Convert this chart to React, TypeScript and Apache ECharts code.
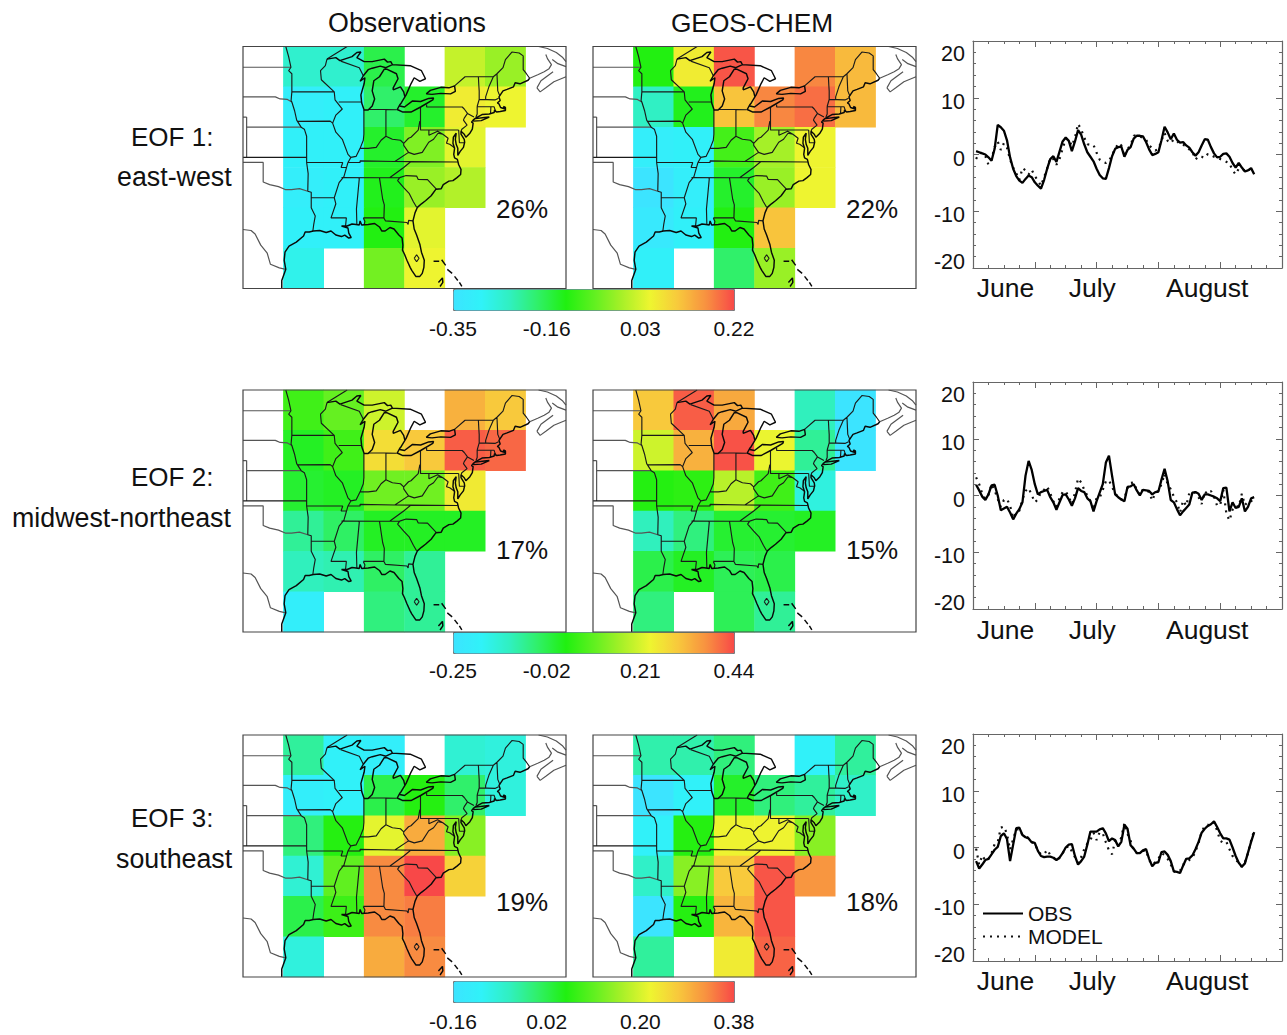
import React, { useEffect, useRef } from "react";
import * as echarts from "echarts";

const FONT = "Liberation Sans";
const colorRamp = ["#3ce4ff", "#30f2f8", "#30f0c0", "#30f068", "#20f010", "#60f020", "#a8f028", "#eef530", "#f8c83c", "#f89040", "#f84848"];
const belowRange = "#40c4fa";

const columnNames = ["c0", "c1", "c2", "c3", "c4", "c5", "c6", "c7"];
const rowNames = ["r5", "r4", "r3", "r2", "r1", "r0"];

// rows top to bottom, columns c1..c6
const obsEof1 = [
  [-0.25, -0.25, -0.16, null, 0.015, -0.02],
  [-0.31, -0.3, -0.18, -0.14, 0.06, 0.05],
  [-0.3, -0.3, -0.14, -0.04, 0.04, null],
  [-0.31, -0.3, -0.13, -0.02, 0.0, null],
  [-0.3, -0.3, -0.12, 0.04, null, null],
  [-0.28, null, -0.05, 0.05, null, null],
];
const modelEof1 = [
  [-0.12, 0.06, 0.21, null, 0.17, 0.12],
  [-0.24, -0.13, 0.11, 0.17, 0.19, 0.12],
  [-0.31, -0.3, -0.09, -0.01, 0.05, null],
  [-0.38, -0.31, -0.14, -0.02, 0.05, null],
  [-0.33, -0.3, -0.12, 0.11, null, null],
  [-0.3, null, -0.18, -0.02, null, null],
];
const obsEof2 = [
  [0.06, 0.1, 0.2, null, 0.33, 0.3],
  [0.01, 0.06, 0.27, 0.3, 0.42, 0.41],
  [0.0, 0.01, 0.11, 0.11, 0.25, null],
  [-0.08, -0.04, 0.01, 0.01, 0.01, null],
  [-0.11, -0.1, -0.04, -0.08, null, null],
  [-0.2, null, -0.06, -0.08, null, null],
];
const modelEof2 = [
  [0.3, 0.42, 0.34, null, -0.11, -0.28],
  [0.2, 0.33, 0.43, 0.23, -0.08, -0.25],
  [0.03, 0.04, 0.18, 0.06, -0.15, null],
  [-0.11, -0.06, 0.0, 0.0, 0.01, null],
  [-0.02, 0.01, -0.03, -0.02, null, null],
  [-0.06, null, -0.03, -0.08, null, null],
];
const obsEof3 = [
  [-0.03, -0.11, -0.12, null, -0.07, -0.08],
  [-0.12, -0.11, 0.02, 0.06, 0.0, -0.08],
  [-0.01, 0.06, 0.21, 0.3, 0.14, null],
  [-0.07, 0.11, 0.33, 0.38, 0.26, null],
  [0.02, 0.08, 0.33, 0.34, null, null],
  [-0.08, null, 0.3, 0.33, null, null],
];
const modelEof3 = [
  [-0.04, -0.04, -0.01, null, -0.11, -0.03],
  [-0.18, -0.11, 0.04, -0.01, -0.03, -0.06],
  [-0.11, 0.06, 0.22, 0.22, 0.14, null],
  [-0.06, 0.14, 0.27, 0.37, 0.32, null],
  [-0.18, 0.06, 0.29, 0.37, null, null],
  [-0.03, null, 0.23, 0.36, null, null],
];

const barRanges = [
  [-0.35, 0.22],
  [-0.25, 0.44],
  [-0.16, 0.38],
];
const barLabels = [
  [-0.35, -0.16, 0.03, 0.22],
  [-0.25, -0.02, 0.21, 0.44],
  [-0.16, 0.02, 0.2, 0.38],
];

const obsSeries1 = [0.6,0.4,0.2,0,-0.5,-1.1,1,5.2,4.8,4.2,2.5,-0.5,-2.5,-3.8,-4.6,-5,-4.3,-3.7,-4,-4.9,-5.5,-6,-4.5,-2.5,-0.8,-0.3,-1.3,0.5,2.3,3,2.4,0.6,2.3,4.3,3.5,1.8,0.4,-0.4,-1.2,-2.5,-3.6,-4.2,-4.3,-2.4,-0.3,1,1.3,1.4,-0.4,0.8,1.3,2.8,3.3,3.3,3.2,2.2,0.9,-0.1,0.1,0.4,2.5,4.9,3.9,2.7,3.7,2.6,2.1,2.2,1.6,1.2,0.4,-0.2,0.4,1.6,2.7,2.6,1.3,0.2,-0.5,-0.4,0.1,0.2,-0.4,-1.5,-2.3,-1.5,-2.3,-3,-2.8,-2.4,-3.5];
const modelSeries1 = [-0.8,0.2,0.3,-0.3,-1.8,-0.8,1.3,2.3,0.8,2,1.2,-0.9,-2.3,-3.3,-4.5,-2.4,-2.8,-3.5,-2.7,-3.8,-4.6,-5.5,-4,-2.5,-0.6,-0.8,-1.8,-0.8,1,2.8,2.6,1.5,3,5.4,4.4,3,1.8,1.7,1.7,0.3,-0.9,-1.3,-1.5,-1.2,0,0.9,2,1.6,-0.3,1,1.6,3.3,3.4,3.2,2.9,2.6,1.6,1.1,0.7,1,2.5,3.8,2.4,2,2.7,2.4,1.8,1.7,1.5,0.9,0.5,-0.9,-0.3,-0.4,-0.6,0.1,-0.1,-0.4,-0.6,-0.8,-1,-1.3,-1.5,-2.8,-3.5,-2.5,-2.6,-2.8,-2.4,-2.9,-3.3];
const obsSeries2 = [1.9,0.9,-0.2,-0.8,0.2,1.8,1.9,0,-2.6,-2.3,-2,-3,-4.2,-3.2,-2.4,-1.2,3.5,6.1,4.5,2,0.2,0.6,0.8,1,-0.3,-1.2,-2.5,-1.2,0.1,0.2,-0.7,-1.8,-0.5,1.3,0.8,0.6,-0.5,-1,-2.8,-1,0.5,2,5.8,7,3.5,0.2,-0.3,-0.7,-1,1.5,1.6,2,0.9,0,1,0.9,0.8,0.2,0.6,0.7,2.8,4.7,2.5,-0.8,-1.2,-2.4,-3.5,-2.8,-2.2,-1.6,0.5,0.6,0.3,-0.8,0.2,0.2,0,-0.2,-0.5,-1,1.3,1.4,-2.8,-1.2,-2.2,-2,-0.5,-2.8,-2,-0.5,-0.3];
const modelSeries2 = [3.2,2,0.3,-0.6,0.1,2,0.9,-0.6,-2,-0.8,-0.6,-1.8,-4,-3,-2.7,-0.7,0.8,1.3,0.1,-1.2,-0.7,0.6,1,1.6,0.4,-1,-2,-0.5,0.6,0.8,-0.3,-1.5,0.5,3,2.3,1,0,-1,-2.5,-0.4,-0.4,1,2.5,2.7,1.5,0.4,-0.3,-0.7,-0.5,1.3,2.2,2.3,1,0.1,1.1,0.9,0.6,-0.9,0.5,0.8,2,3.8,2,1.1,-0.2,-1.2,-3,-0.9,-1.8,0.4,0.6,0.5,-0.3,-1.5,0.7,0.3,0.8,-0.2,-1.8,-1.7,1,-3.2,-4.4,-2.5,-1.8,-2,0.3,-1.7,-1.1,-0.9,-1.7];
const obsSeries3 = [-2.4,-3.7,-3,-2.2,-2,-1.2,-0.4,0.1,2,2.5,1.5,-2.4,0.5,3.4,3.5,2.2,1.8,1.6,0.9,0.8,-0.6,-1.5,-1.7,-1.6,-1.6,-1.8,-2.2,-1.8,-1,0,0.5,0.6,-1.5,-3,-2.4,-1.6,0.5,2.8,2.8,2.8,3.2,3.4,2.5,1.1,1.6,1.3,0.2,1,4,3.3,0.4,-0.2,-1,-1,-0.5,-0.3,-2,-3.3,-2.7,-2.6,-0.8,-0.7,-1.3,-2.4,-4.2,-4.3,-4.5,-3.2,-2,-1.9,-1.4,-0.3,1,2.6,3.3,3.8,4.1,4.6,3.6,2.5,1.6,1.6,1.4,0,-1.5,-2.7,-3.4,-2.8,-0.9,1,2.7];
const modelSeries3 = [-0.2,-3,-1.4,-2.3,-2,-1,0.6,0.9,3.5,3.7,2.4,-0.4,1.5,3.2,3.2,2.2,1.9,1.7,1,0.7,-0.6,-1.2,-1.2,-0.4,-1.3,-1.7,-2.3,-1.8,-1,-0.1,0.3,-0.7,-1.7,-2.7,-1.7,-0.3,0.7,1.3,2.6,1.3,2.7,2.5,0.9,-0.5,-1.2,1.2,0.3,1.8,4.3,2.4,1.2,-0.5,-1,-0.8,-0.6,-0.5,-2.2,-3,-2.6,-2,-1,-1.3,-2,-3,-4.2,-4.4,-4.1,-3,-2.7,-2.2,-1.8,-0.7,0.8,2.8,3.8,4,3.8,4.4,3,1.2,0.8,1,-0.3,-1.5,-2.2,-2.6,-3.4,-2.6,-1,1.2,3];

const monthPositions = [10.5, 38.6, 75.8];
const monthNames = ["June", "July", "August"];

// map outlines as [longitude, latitude] lists
const coastLines: number[][][] = [
  [[-97.7,24],[-97.7,24.8],[-97.2,25.9],[-97.4,26.8],[-97.3,27.6],[-96.8,28.2],[-95.9,28.6],[-95,29.2],[-94.8,29.6],[-94.3,29.6],[-93.8,29.7],[-93,29.75],[-92.2,29.55],[-91.6,29.7],[-91,29.3],[-90.3,29.15],[-89.9,29.3],[-89.4,29],[-89.1,29.05],[-89.4,29.5],[-89.5,30],[-89.9,30.1],[-90.3,30.2],[-89.6,30.2],[-89,30.4],[-88.5,30.35],[-88.1,30.3],[-88,30.7],[-87.8,30.3],[-87,30.35],[-86.2,30.45],[-85.6,30.1],[-85.3,29.7],[-84.9,29.7],[-84.3,30.05],[-83.8,29.9],[-83.2,29.3],[-82.8,29],[-82.7,28.3],[-82.75,27.8],[-82.5,27.4],[-82.2,26.8],[-81.8,26.1],[-81.6,25.8],[-81.1,25.2],[-80.6,25.2],[-80.3,25.5],[-80.1,26.1],[-80.05,26.8],[-80.4,27.6],[-80.6,28.4],[-81,29.3],[-81.3,29.9],[-81.45,30.7],[-81.2,31.5],[-80.9,32.05],[-80.4,32.4],[-79.9,32.7],[-79.2,33.2],[-78.6,33.85],[-77.95,33.9],[-77.7,34.3],[-77,34.65],[-76.5,34.7],[-76,35],[-75.55,35.3],[-75.5,35.8],[-75.8,36.3],[-75.95,36.8],[-76.3,36.95],[-76.4,37.3],[-76.3,37.9],[-76.5,38.4],[-76.45,39],[-76.1,39.4],[-76.2,38.8],[-76.1,38.3],[-75.9,37.9],[-75.9,37.2],[-75.6,37.6],[-75.2,38],[-75.05,38.5],[-75.1,38.8],[-75.5,39.3],[-75.5,39.6],[-75.1,39.3],[-74.9,39],[-74.4,39.4],[-74.1,39.8],[-74,40.4],[-74.2,40.5],[-74,40.7],[-73.7,40.9],[-72.9,41.25],[-72,41.3],[-71.4,41.45],[-71.35,41.7],[-71.1,41.5],[-70.65,41.55],[-70,41.65],[-70,41.95],[-70.25,42.05],[-70.05,41.8],[-70.6,41.95],[-70.8,42.3],[-71,42.4],[-70.65,42.65],[-70.8,43],[-70.3,43.6],[-69.8,43.75],[-69,44],[-68.8,44.4],[-68.2,44.3],[-67.2,44.65],[-67,44.85]],
  [[-74,40.6],[-73,40.65],[-72,41],[-72.6,40.95],[-73.7,40.85]],
  [[-92.1,46.75],[-91,46.9],[-90.5,46.6],[-89,47],[-88.4,47.4],[-87.9,47.45],[-88.4,46.9],[-87.5,46.5],[-86.5,46.5],[-85,46.75],[-84.6,46.45],[-84.2,46.5],[-84,46.2],[-84.8,45.9],[-85.5,46.05],[-86.5,45.85],[-87,45.7],[-87.6,45.1],[-88,44.55],[-87.4,44.9],[-87.5,44.3],[-87.9,43.2],[-87.8,42.4],[-87.5,41.7],[-87,41.7],[-86.5,42.1],[-86.2,42.8],[-86.5,43.6],[-86.3,44.6],[-85.6,45],[-85,45.75],[-84.7,45.75],[-83.5,45.3],[-83.3,44.8],[-83.9,43.9],[-83.9,43.7],[-83,44],[-82.6,43.5],[-82.45,43],[-82.9,42.4],[-83.1,42.2],[-83.4,41.75],[-82.7,41.5],[-81.7,41.5],[-80.5,42],[-79,42.7],[-78.9,42.9],[-79.5,42.85],[-80.5,42.55],[-81.5,42.6],[-82.5,42],[-83.1,42.1]],
  [[-79.1,43.25],[-78,43.35],[-76.8,43.3],[-76.2,43.55],[-76.3,44.1],[-77,43.9],[-78,43.95],[-79.3,43.65],[-79.8,43.3],[-79.1,43.25]],
  [[-84,46.2],[-81.8,46.1],[-80.4,45.6],[-79.9,44.8],[-80.6,44.55],[-81.3,44.9],[-81.7,44.3],[-82.3,43.2],[-82.45,43]],
  [[-78.9,26.7],[-78.2,26.7]],
  [[-77.9,26.85],[-77.4,26.3]],
  [[-77.2,25.9],[-76.6,25.5]],
  [[-76.3,25.2],[-75.9,24.8]],
  [[-75.7,24.6],[-75.4,24.2]],
  [[-78.3,24.6],[-77.8,25.05],[-77.75,24.6],[-78.1,24.2]],
];
const stateLines: number[][][] = [
  [[-97.2,48],[-96.85,47],[-96.56,45.94],[-96.85,45.6],[-96.45,45.3],[-96.45,43.5],[-96.55,42.6],[-96.45,42.5],[-96.1,41.6],[-95.85,40.7],[-95.3,40],[-94.9,39.8],[-94.62,39.1],[-94.62,36.5],[-94.43,35.4],[-94.48,33.64]],
  [[-96.45,43.5],[-91.2,43.5]],
  [[-95.8,40.58],[-91.7,40.6],[-91.4,40.4]],
  [[-92.1,46.75],[-92.3,46.1],[-92.9,45.6],[-92.8,44.7],[-91.2,43.5],[-91.1,42.7],[-90.2,41.8],[-91,41.2],[-91.4,40.4],[-91,39.5],[-90.2,38.8],[-89.5,37.3],[-89.15,37],[-89.5,36.5],[-90,35.1],[-90.6,34.5],[-91.2,33],[-91,32.4],[-91.6,31],[-89.7,31],[-89.8,30.2]],
  [[-90.65,42.5],[-87.8,42.5]],
  [[-90.4,46.55],[-88.1,45.9],[-87.6,45.1]],
  [[-87.53,41.7],[-87.53,39.3],[-87.6,38.7],[-88,37.9]],
  [[-89.15,37],[-88.5,37.1],[-88,37.9],[-87,37.9],[-86,38],[-85.4,38.7],[-84.8,39.1],[-84,38.8],[-83,38.7],[-82.6,38.4],[-82,38.9],[-81.7,39],[-80.8,39.7],[-80.6,40.6]],
  [[-84.8,41.73],[-84.8,39.1]],
  [[-87,41.75],[-84.8,41.75],[-83.45,41.73]],
  [[-80.52,42],[-80.52,39.72],[-75.79,39.72]],
  [[-79.76,42.25],[-79.76,42],[-75.35,42],[-75.1,41.8],[-74.7,41.36],[-75.1,40.9],[-75.2,40.7],[-74.75,40.2],[-75.4,39.8],[-75.5,39.6]],
  [[-74.7,41.36],[-73.9,41]],
  [[-73.5,42.05],[-73.5,41.3],[-73.65,41]],
  [[-73.35,45],[-73.3,44.2],[-73.25,43.6],[-73.25,42.75],[-73.5,42.05]],
  [[-76.3,44.1],[-75,45],[-74.7,45],[-71.5,45],[-71.05,45.3],[-70.3,45.9],[-70,46.7],[-69.2,47.45],[-68.3,47.35],[-67.8,47.07],[-67.8,45.7],[-67.4,45.3],[-67,44.85]],
  [[-71.5,45],[-72.05,44],[-72.45,43],[-72.45,42.73]],
  [[-71.05,45.3],[-70.95,43.6],[-70.7,43.1]],
  [[-73.25,42.75],[-71.3,42.7],[-70.85,42.87]],
  [[-73.5,42.05],[-71.8,42.02],[-71.4,42.02],[-71.2,41.5]],
  [[-71.8,42.02],[-71.85,41.32]],
  [[-89.5,36.5],[-88,36.5],[-88,36.65],[-83.7,36.6],[-81.7,36.59],[-75.9,36.55]],
  [[-83.7,36.6],[-82,37.5],[-82.6,38.2],[-82.6,38.4]],
  [[-82,37.5],[-81.3,37.3],[-80.3,37.5],[-79.5,38.5],[-78.9,38.8],[-78.35,39.4],[-77.75,39.3],[-77.1,38.9],[-77.3,38.4],[-76.9,38.3],[-76.3,37.95]],
  [[-79.48,39.72],[-79.48,39.2],[-78.4,39.6],[-77.75,39.3]],
  [[-75.79,39.72],[-75.7,38.46],[-75.05,38.45]],
  [[-81.7,36.59],[-82.6,36],[-84.3,35]],
  [[-90.3,35],[-85.6,34.98],[-83.1,35]],
  [[-83.1,35],[-83.35,34.7],[-82.6,34],[-81.9,33.4],[-81.4,32.6],[-81,32.05]],
  [[-83.1,35],[-82.3,35.2],[-81,35.15],[-80.8,34.82],[-79.65,34.8],[-78.55,33.86]],
  [[-88.2,35],[-88.1,34.9],[-88.45,31.9],[-88.4,30.35]],
  [[-85.6,34.98],[-85.2,32.85],[-85,32.3],[-85.05,31],[-84.85,30.7],[-82.2,30.55],[-82.05,30.36],[-82,30.75],[-81.45,30.7]],
  [[-87.6,31],[-85,31]],
  [[-87.6,31],[-87.4,30.65],[-87.5,30.3]],
  [[-94.62,36.5],[-90.15,36.5],[-90.35,36],[-89.7,36]],
  [[-94.05,33.02],[-91.2,33]],
  [[-94.48,33.64],[-94.05,33.55],[-94.05,32],[-93.55,31.2],[-93.75,30.3],[-93.85,29.7]],
  [[-94.62,37],[-102.5,37]],
  [[-92.1,46.75],[-91,47.3],[-90,47.8],[-89.6,48]],
  [[-81.3,27],[-81,27.35],[-80.7,27],[-81,26.65],[-81.3,27]],
];
const outerLines: number[][][] = [
  [[-102.5,45.94],[-96.56,45.94]],
  [[-102.5,43],[-98.5,43],[-97.9,42.8],[-97,42.75],[-96.45,42.5]],
  [[-102.05,40],[-95.3,40]],
  [[-102.05,41],[-102.05,37]],
  [[-102.5,41],[-102.05,41]],
  [[-102.5,36.5],[-100,36.5],[-100,34.56],[-99.2,34.3],[-98.1,34.1],[-97.2,33.8],[-96.5,33.8],[-95.5,33.9],[-94.48,33.64]],
  [[-102.5,29.85],[-101.5,29.75],[-101,29.4],[-100.3,28.3],[-99.5,27.5],[-99.1,26.4],[-98,26.05],[-97.2,25.9]],
  [[-67,44.85],[-66,45.2],[-65.2,45.5],[-64.6,45.8],[-64.3,46.2],[-64.8,46.8],[-65,47.2]],
  [[-66.1,43.9],[-65.7,43.5],[-65,43.9],[-64,44.5],[-62.5,45]],
  [[-66.1,43.9],[-65.6,44.6],[-64.6,45.2],[-64.1,45.5]],
  [[-65.9,48],[-64.8,47.8],[-63.7,47.4],[-62.9,46.9],[-62.5,46.5]],
  [[-64.2,46.7],[-63.5,46.3],[-62.5,46]],
];

const panelFields = [
  [obsEof1, modelEof1],
  [obsEof2, modelEof2],
  [obsEof3, modelEof3],
];
const seriesByRow = [
  [obsSeries1, modelSeries1],
  [obsSeries2, modelSeries2],
  [obsSeries3, modelSeries3],
];
const percentLabels = [
  ["26%", "22%"],
  ["17%", "15%"],
  ["19%", "18%"],
];
const rowTitles = [
  ["EOF 1:", "east-west"],
  ["EOF 2:", "midwest-northeast"],
  ["EOF 3:", "southeast"],
];

const mapTops = [46.5, 390, 735];
const mapLefts = [243, 593];
const barTops = [289, 632, 981];
const barMargins = [7, 6, 8];
const monthMargins = [6, 7, 6];
const lineTops = [41, 382, 734];
const titleLefts = [[131, 117], [131, 12], [131, 116]];
const titleYs = [[137, 177], [477, 518], [818, 859]];
const percentYs = [209, 550, 902];

function flatten(lines: number[][][]) {
  const out: any[] = [];
  lines.forEach((l) => {
    l.forEach((p) => out.push(p));
    out.push([null, null]);
  });
  return out;
}

function buildOption() {
  const grid: any[] = [];
  const xAxis: any[] = [];
  const yAxis: any[] = [];
  const series: any[] = [];
  const visualMap: any[] = [];
  const graphic: any[] = [];

  const text = (t: string, x: number, y: number, size: number, align = "left") => ({
    type: "text",
    x,
    y,
    z: 50,
    style: { text: t, fontFamily: FONT, fontSize: size, fill: "#111", align, verticalAlign: "middle" },
  });

  graphic.push(text("Observations", 407, 23, 26.8, "center"));
  graphic.push(text("GEOS-CHEM", 752, 23, 26.3, "center"));

  panelFields.forEach((fields, r) => {
    const heatIdx: number[] = [];
    rowTitles[r].forEach((t, i) => graphic.push(text(t, titleLefts[r][i], titleYs[r][i], i === 0 ? 26 : 26.8)));
    fields.forEach((field, c) => {
      const g = grid.length;
      grid.push({
        left: mapLefts[c], top: mapTops[r], width: 323, height: 242,
        show: true, z: 8, borderColor: "#444", borderWidth: 1.2, backgroundColor: "transparent",
      });
      const xc = xAxis.length;
      xAxis.push({ type: "category", gridIndex: g, data: columnNames, show: false });
      const yc = yAxis.length;
      yAxis.push({ type: "category", gridIndex: g, data: rowNames, show: false });
      const xv = xAxis.length;
      xAxis.push({ type: "value", gridIndex: g, min: -102.5, max: -62.5, show: false });
      const yv = yAxis.length;
      yAxis.push({ type: "value", gridIndex: g, min: 24, max: 48, show: false });
      const cells: any[] = [];
      field.forEach((row, ri) => {
        row.forEach((v, ci) => {
          if (v !== null) cells.push([ci + 1, 5 - ri, v]);
        });
      });
      heatIdx.push(series.length);
      series.push({
        type: "heatmap", name: `field${r}${c}`, xAxisIndex: xc, yAxisIndex: yc, data: cells, z: 2,
        itemStyle: { borderWidth: 0 }, emphasis: { disabled: true },
      });
      const addLines = (name: string, lines: number[][][], color: string, width: number) =>
        series.push({
          type: "line", name, xAxisIndex: xv, yAxisIndex: yv, data: flatten(lines), showSymbol: false,
          symbol: "none", connectNulls: false, z: 3, silent: true,
          lineStyle: { color, width },
        });
      addLines("outer", outerLines, "#555", 1.2);
      addLines("states", stateLines, "#1a1a1a", 1.15);
      addLines("coast", coastLines, "#0a0a0a", 1.45);
      graphic.push(text(percentLabels[r][c], mapLefts[c] + 253, percentYs[r], 26));
    });

    const [mn, mx] = barRanges[r];
    visualMap.push({
      type: "continuous", min: mn, max: mx, seriesIndex: heatIdx, orient: "horizontal", show: true,
      left: 453, top: barTops[r], itemWidth: 21, itemHeight: 281, padding: 0, calculable: false, hoverLink: false,
      borderColor: "#777", borderWidth: 1,
      inRange: { color: colorRamp }, outOfRange: { color: belowRange },
    });
    const gb = grid.length;
    grid.push({ left: 453, top: barTops[r] + 21, width: 281, height: 1 });
    xAxis.push({
      type: "value", gridIndex: gb, min: mn, max: mx,
      axisLine: { show: false }, axisTick: { show: false }, splitLine: { show: false },
      axisLabel: {
        customValues: barLabels[r], margin: barMargins[r], fontFamily: FONT, fontSize: 21, color: "#111",
        formatter: (v: number) => v.toFixed(2),
      },
    });
    yAxis.push({ type: "value", gridIndex: gb, min: 0, max: 1, show: false });

    // time series panel
    const gl = grid.length;
    grid.push({ left: 973, top: lineTops[r], width: 309, height: 227 });
    const frame = { onZero: false, lineStyle: { color: "#666", width: 1.2 } };
    const xIdx = xAxis.length;
    xAxis.push({
      type: "value", gridIndex: gl, min: 0, max: 100, interval: 20, position: "bottom",
      axisLine: frame, splitLine: { show: false },
      axisTick: { inside: true, length: 6, lineStyle: { color: "#666" } },
      minorTick: { show: true, splitNumber: 4, length: 3, lineStyle: { color: "#666" } },
      axisLabel: {
        customValues: monthPositions, margin: monthMargins[r], fontFamily: FONT, fontSize: 26.5, color: "#111",
        formatter: (v: number) => monthNames[monthPositions.indexOf(v)],
      },
    });
    xAxis.push({
      type: "value", gridIndex: gl, min: 0, max: 100, interval: 20, position: "top",
      axisLine: frame, splitLine: { show: false }, axisLabel: { show: false },
      axisTick: { inside: true, length: 6, lineStyle: { color: "#666" } },
      minorTick: { show: true, splitNumber: 4, length: 3, lineStyle: { color: "#666" } },
    });
    const yIdx = yAxis.length;
    const labelStyle = { fontFamily: FONT, fontSize: 21.5, color: "#111" };
    yAxis.push({
      type: "value", gridIndex: gl, min: -20, max: 20, interval: 10, position: "left",
      axisLine: { show: true, ...frame }, splitLine: { show: false },
      axisTick: { show: true, inside: true, length: 6, lineStyle: { color: "#666" } },
      minorTick: { show: true, splitNumber: 5, length: 3, lineStyle: { color: "#666" } },
      axisLabel: {
        margin: 8, ...labelStyle,
        formatter: (v: number) => (v === 20 ? `{t|${v}}` : v === -20 ? `{b|${v}}` : `{m|${v}}`),
        rich: {
          t: { ...labelStyle, padding: [26, 0, 0, 0] },
          m: { ...labelStyle, padding: [8, 0, 0, 0] },
          b: { ...labelStyle, padding: [0, 0, 12, 0] },
        },
      },
    });
    yAxis.push({
      type: "value", gridIndex: gl, min: -20, max: 20, interval: 10, position: "right",
      axisLine: { show: true, ...frame }, splitLine: { show: false }, axisLabel: { show: false },
      axisTick: { show: true, inside: true, length: 6, lineStyle: { color: "#666" } },
      minorTick: { show: true, splitNumber: 5, length: 3, lineStyle: { color: "#666" } },
    });
    const [obs, model] = seriesByRow[r];
    series.push({
      type: "line", name: "MODEL", xAxisIndex: xIdx, yAxisIndex: yIdx, showSymbol: false, symbol: "none",
      data: model.map((v, i) => [i + 1, v]), z: 3,
      lineStyle: { color: "#111", width: 2.2, type: [2, 5] }, itemStyle: { color: "#111" },
    });
    series.push({
      type: "line", name: "OBS", xAxisIndex: xIdx, yAxisIndex: yIdx, showSymbol: false, symbol: "none",
      data: obs.map((v, i) => [i + 1, v]), z: 4,
      lineStyle: { color: "#000", width: 2.3 }, itemStyle: { color: "#000" },
    });
  });

  return {
    animation: false,
    backgroundColor: "#fff",
    textStyle: { fontFamily: FONT },
    grid, xAxis, yAxis, series, visualMap, graphic,
    legend: {
      data: ["OBS", "MODEL"], orient: "vertical", left: 982, top: 903, padding: 0, itemGap: 2,
      itemWidth: 40, itemHeight: 20, selectedMode: false, itemStyle: { opacity: 0 },
      textStyle: { fontFamily: FONT, fontSize: 21, color: "#111" },
    },
  };
}

export default function App() {
  const ref = useRef<HTMLDivElement>(null);
  useEffect(() => {
    const chart = echarts.init(ref.current!, undefined, { renderer: "svg" });
    chart.setOption(buildOption() as any);
    return () => chart.dispose();
  }, []);
  return <div ref={ref} style={{ position: "absolute", left: 0, top: 0, width: 1287, height: 1035 }} />;
}
